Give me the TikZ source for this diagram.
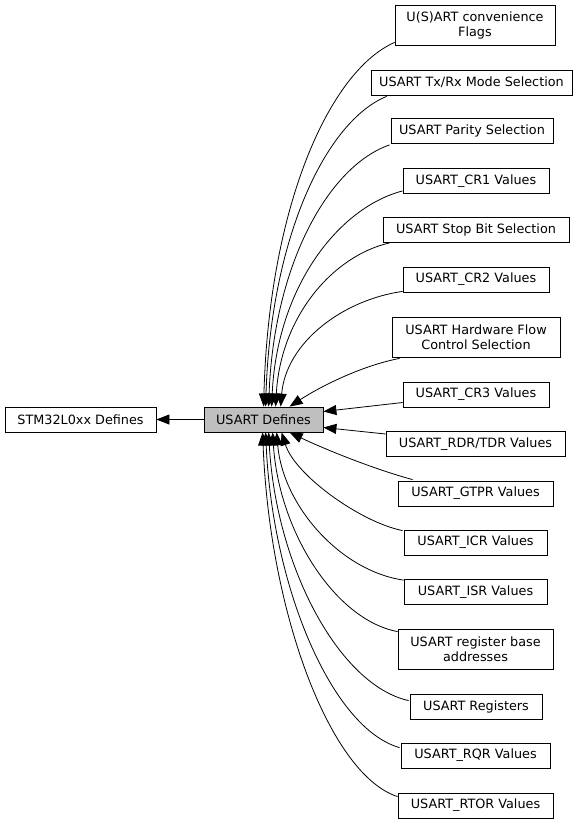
\documentclass[tikz,border=0pt]{standalone}
\usepackage{fontspec}
\setmainfont{DejaVu Sans}
\usetikzlibrary{arrows.meta,calc}
\definecolor{udgray}{HTML}{BFBFBF}
\begin{document}
\begin{tikzpicture}[x=1pt,y=-1pt,
  box/.style={draw=black, line width=0.8pt, fill=white, inner sep=0pt, align=center,
    font=\fontsize{12.8}{15}\selectfont, minimum height=25pt},
  tallbox/.style={box, minimum height=40pt},
  edge/.style={line width=0.8pt, -{Triangle[length=13pt,width=10pt]}}]
\useasboundingbox (0,0) rectangle (587,823);

\node[box, minimum width=151pt] (stm) at (80.5,419.5) {STM32L0xx Defines};
\node[box, fill=udgray, minimum width=119pt] (ud) at (263.5,419.5) {USART Defines};

\node[tallbox, minimum width=160pt] (flags) at (475,25) {U(S)ART convenience\\Flags};
\node[box, minimum width=201pt] (txrx) at (471.5,82.5) {USART Tx/Rx Mode Selection};
\node[box, minimum width=162pt] (parity) at (472,131) {USART Parity Selection};
\node[box, minimum width=146pt] (cr1) at (476,181) {USART\_CR1 Values};
\node[box, minimum width=186pt] (stop) at (476,230) {USART Stop Bit Selection};
\node[box, minimum width=146pt] (cr2) at (476,279.5) {USART\_CR2 Values};
\node[tallbox, minimum width=168pt] (hw) at (476,337) {USART Hardware Flow\\Control Selection};
\node[box, minimum width=146pt] (cr3) at (476,394.5) {USART\_CR3 Values};
\node[box, minimum width=179pt] (rdr) at (475.5,444) {USART\_RDR/TDR Values};
\node[box, minimum width=155pt] (gtpr) at (475.5,493.5) {USART\_GTPR Values};
\node[box, minimum width=143pt] (icr) at (475.5,542.5) {USART\_ICR Values};
\node[box, minimum width=143pt] (isr) at (475.5,592) {USART\_ISR Values};
\node[tallbox, minimum width=155pt] (base) at (475.5,649) {USART register base\\addresses};
\node[box, minimum width=132pt] (regs) at (476,706.5) {USART Registers};
\node[box, minimum width=149pt] (rqr) at (475.5,755.5) {USART\_RQR Values};
\node[box, minimum width=155pt] (rtor) at (475.5,805.5) {USART\_RTOR Values};

\draw[edge] (ud.west) -- (stm.east);

% upper curves
\draw[edge] ($(flags.south west)+(0,-3)$) .. controls (329.5,71) and (269,206) .. ($(ud.north west)+(60,0)$);
\draw[edge] ($(txrx.south west)+(16,1)$) .. controls (326.5,121) and (271,236) .. ($(ud.north west)+(62,0)$);
\draw[edge] ($(parity.south west)+(-1,1)$) .. controls (329.5,165.5) and (274,262.6) .. ($(ud.north west)+(65,0)$);
\draw[edge] ($(cr1.south west)+(0,-3)$) .. controls (337.5,208) and (277,288) .. ($(ud.north west)+(68,0)$);
\draw[edge] ($(stop.south west)+(7,0)$) .. controls (333,255.7) and (280.6,316.5) .. ($(ud.north west)+(72,0)$);
\draw[edge] ($(cr2.south west)+(0,-1)$) .. controls (342,300) and (286,343) .. ($(ud.north west)+(77,0)$);
\draw[edge] ($(hw.south west)+(8,1)$) .. controls (360,366) and (318,388) .. ($(ud.north west)+(86,0)$);

% near-straight
\draw[edge] ($(cr3.west)+(0,8)$) -- ($(ud.east)+(0,-8)$);
\draw[edge] ($(rdr.west)+(0,-10)$) -- ($(ud.east)+(0,8)$);

% lower curves
\draw[edge] ($(gtpr.north west)+(15,-1)$) .. controls (370,468) and (320,447) .. ($(ud.south west)+(86,0)$);
\draw[edge] ($(icr.north west)+(-1,1)$) .. controls (360,522) and (295,475) .. ($(ud.south west)+(78,0)$);
\draw[edge] ($(isr.north west)+(0,1)$) .. controls (340.5,571) and (283,506) .. ($(ud.south west)+(73,0)$);
\draw[edge] ($(base.north west)+(0,3)$) .. controls (335.5,620) and (279,532) .. ($(ud.south west)+(69,0)$);
\draw[edge] ($(regs.north west)+(-1,7)$) .. controls (339,685) and (276,566.5) .. ($(ud.south west)+(65,0)$);
\draw[edge] ($(rqr.north west)+(-1,5)$) .. controls (333,729) and (272.7,590) .. ($(ud.south west)+(62,0)$);
\draw[edge] ($(rtor.north west)+(0,4)$) .. controls (330.5,775) and (269.75,614.5) .. ($(ud.south west)+(59,0)$);
\end{tikzpicture}
\end{document}
